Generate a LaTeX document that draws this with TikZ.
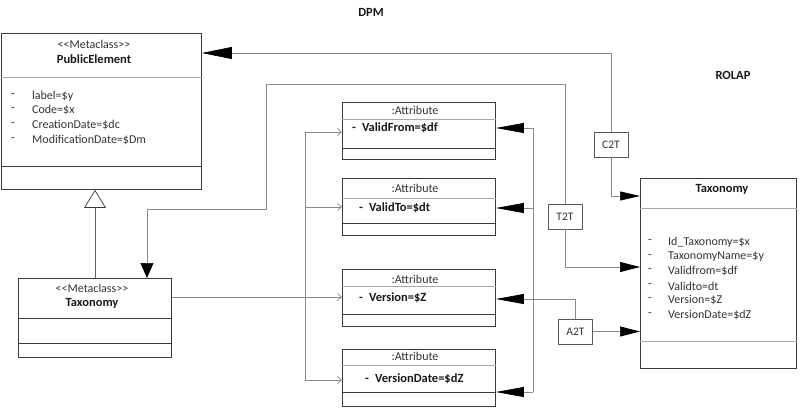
\documentclass[tikz,border=0pt]{standalone}
\usepackage{fontspec}
\setmainfont{Carlito}
\usetikzlibrary{arrows.meta}
\definecolor{boxc}{HTML}{3A3A3A}
\definecolor{linec}{HTML}{8A8A8A}
\definecolor{divc}{HTML}{A8A8A8}
\newcommand{\lt}{<\kern0pt<}
\newcommand{\gt}{>\kern0pt>}
\begin{document}
\begin{tikzpicture}[x=1pt,y=-1pt,
  box/.style={draw=boxc, line width=0.9pt, inner sep=0pt, anchor=north west},
  lbl/.style={draw=boxc!85, line width=0.7pt, inner sep=0pt, minimum width=34pt, minimum height=25pt, font=\fontsize{11.5}{13}\selectfont, text=black!80},
  div/.style={draw=divc, line width=0.7pt},
  divd/.style={draw=boxc, line width=0.7pt},
  conn/.style={draw=linec, line width=0.7pt},
  bigtip/.style={-{Triangle[length=28pt,width=10pt,color=black]}},
  midtip/.style={-{Triangle[length=20pt,width=10pt,color=black]}},
  smalltip/.style={-{Straight Barb[length=4pt,width=7pt,color=linec]}},
  txt/.style={inner sep=0pt, font=\fontsize{12}{14}\selectfont, text=black!80},
  btxt/.style={inner sep=0pt, font=\fontsize{12.5}{14}\selectfont\bfseries, text=black!90},
  attr/.style={txt, anchor=west},
]
\useasboundingbox (0,0) rectangle (800,407);

% titles
\node[btxt] (dpm) at (371,12) {DPM};
\node[btxt] (rolap) at (733,75) {ROLAP};

% PublicElement
\node[box, minimum width=200pt, minimum height=156pt] (pe) at (1,33) {};
\draw[div] (pe.west |- 0,77) -- (pe.east |- 0,77);
\draw[divd] (pe.west |- 0,166) -- (pe.east |- 0,166);
\node[txt] (pest) at (94,44) {\lt Metaclass\gt};
\node[btxt] (pename) at (94,59) {PublicElement};
\node[txt] (ped1) at (13,96) {-};
\node[txt] (ped2) at (13,110) {-};
\node[txt] (ped3) at (13,125) {-};
\node[txt] (ped4) at (13,140) {-};
\node[attr] (pea1) at (32,96) {label=\$y};
\node[attr] (pea2) at (32,110) {Code=\$x};
\node[attr] (pea3) at (32,125) {CreationDate=\$dc};
\node[attr] (pea4) at (32,140) {ModificationDate=\$Dm};

% Taxonomy (DPM)
\node[box, minimum width=153pt, minimum height=79pt] (taxL) at (18,278) {};
\draw[divd] (taxL.west |- 0,318) -- (taxL.east |- 0,318);
\draw[divd] (taxL.west |- 0,343) -- (taxL.east |- 0,343);
\node[txt] (tlst) at (92,288) {\lt Metaclass\gt};
\node[btxt] (tlname) at (92,303) {Taxonomy};

% generalization
\draw[draw=boxc!80, line width=0.7pt, -{Triangle[open,fill=white,length=18pt,width=22pt,color=boxc]}] (taxL.north -| 95,0) -- (pe.south -| 95,0);

% Attribute boxes
\node[box, minimum width=153pt, minimum height=57pt] (a1) at (342,102) {};
\draw[div] (a1.west |- 0,119) -- (a1.east |- 0,119);
\draw[divd] (a1.west |- 0,148) -- (a1.east |- 0,148);
\node[txt] (a1t) at (415,110) {:Attribute};
\node[btxt, anchor=west] (a1a) at (352,128) {-\hspace{6pt}ValidFrom=\$df};

\node[box, minimum width=153pt, minimum height=57pt] (a2) at (342,178) {};
\draw[div] (a2.west |- 0,198) -- (a2.east |- 0,198);
\draw[divd] (a2.west |- 0,223) -- (a2.east |- 0,223);
\node[txt] (a2t) at (415,188) {:Attribute};
\node[btxt, anchor=west] (a2a) at (359,208) {-\hspace{6pt}ValidTo=\$dt};

\node[box, minimum width=153pt, minimum height=57pt] (a3) at (342,269) {};
\draw[div] (a3.west |- 0,286) -- (a3.east |- 0,286);
\draw[divd] (a3.west |- 0,314) -- (a3.east |- 0,314);
\node[txt] (a3t) at (415,279) {:Attribute};
\node[btxt, anchor=west] (a3a) at (359,298) {-\hspace{6pt}Version=\$Z};

\node[box, minimum width=153pt, minimum height=57pt] (a4) at (342,349) {};
\draw[div] (a4.west |- 0,365) -- (a4.east |- 0,365);
\draw[divd] (a4.west |- 0,392) -- (a4.east |- 0,392);
\node[txt] (a4t) at (415,356) {:Attribute};
\node[btxt, anchor=west] (a4a) at (365,379) {-\hspace{6pt}VersionDate=\$dZ};

% Taxonomy (ROLAP)
\node[box, minimum width=156pt, minimum height=190pt] (taxR) at (640,178) {};
\draw[div] (taxR.west |- 0,208) -- (taxR.east |- 0,208);
\draw[div] (taxR.west |- 0,341) -- (taxR.east |- 0,341);
\node[btxt] (trname) at (722,189) {Taxonomy};
\foreach \yy/\tt [count=\i] in {242/Id\_Taxonomy=\$x, 257/TaxonomyName=\$y, 271/Validfrom=\$df, 286/Validto=dt, 300/Version=\$Z, 315/VersionDate=\$dZ}{
  \node[txt] (trd\i) at (650,\yy) {-};
  \node[attr] (tra\i) at (668,\yy) {\tt};
}

% transformation labels
\node[lbl] (c2t) at (611,144.5) {C2T};
\node[lbl] (t2t) at (565,216.5) {T2T};
\node[lbl] (a2tb) at (575.5,331.5) {A2T};

% C2T connectors
\draw[conn, -{Triangle[length=30pt,width=12pt,color=black]}] (c2t.north) |- (pe.east |- 0,53);
\draw[conn, -{Triangle[length=20pt,width=9pt,color=black]}] (c2t.south) |- (taxR.west |- 0,196);

% T2T connectors
\coordinate (ta) at (266,84);
\coordinate (tb) at (266,209);
\draw[conn, -{Triangle[length=15pt,width=13pt,color=black]}] (t2t.north) |- (ta) -- (tb) -| (taxL.north -| 147,0);
\draw[conn, midtip] (t2t.south) |- (taxR.west |- 0,267);

% A2T connectors
\draw[conn, midtip] (a2tb.east) -- (taxR.west |- a2tb.east);
\draw[conn, bigtip] (a2tb.north) |- (a3.east |- 0,299);
\coordinate (rb1) at (533,128);
\coordinate (rb2) at (533,208);
\coordinate (rb4) at (533,392);
\draw[conn] (rb1) -- (rb4);
\draw[conn, bigtip] (rb1) -- (a1.east |- rb1);
\draw[conn, bigtip] (rb2) -- (a2.east |- rb2);
\draw[conn, bigtip] (rb4) -- (a4.east |- rb4);

% Taxonomy to attributes
\coordinate (lb1) at (305,132);
\coordinate (lb2) at (305,207);
\coordinate (lb4) at (305,380);
\draw[conn] (lb1) -- (lb4);
\draw[conn, smalltip] (taxL.east |- 0,297) -- (a3.west |- 0,297);
\draw[conn, smalltip] (lb1) -- (a1.west |- lb1);
\draw[conn, smalltip] (lb2) -- (a2.west |- lb2);
\draw[conn, smalltip] (lb4) -- (a4.west |- lb4);
\end{tikzpicture}
\end{document}
